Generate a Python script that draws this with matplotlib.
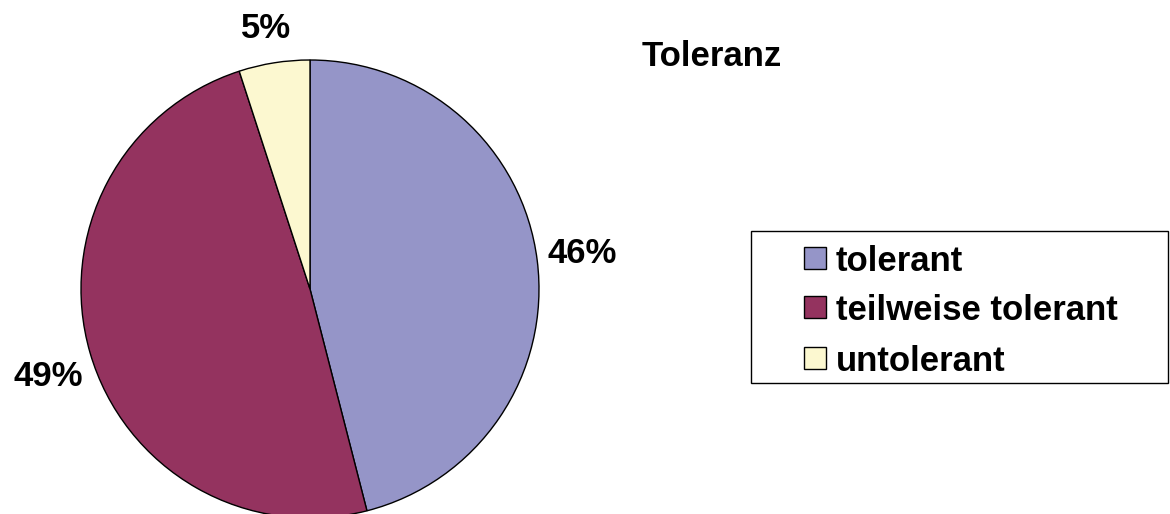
import matplotlib.pyplot as plt
from matplotlib.patches import Rectangle

# Daten
labels = ["tolerant", "teilweise tolerant", "untolerant"]
values = [46, 49, 5]
colors = ["#9595C8", "#94335F", "#FCF8D0"]
title = "Toleranz"

plt.rcParams['font.family'] = ['Liberation Sans', 'DejaVu Sans']
fs = 25

fig = plt.figure(figsize=(11.7, 5.14), dpi=100)
W, H = 1170, 514
cx, cy, r = 310, 289, 229
ax = fig.add_axes([(cx - r) / W, 1 - (cy + r) / H, 2 * r / W, 2 * r / H])

wedges, texts, autotexts = ax.pie(
    values, colors=colors, startangle=90, counterclock=False,
    autopct='%1.0f%%', pctdistance=1.18,
    wedgeprops=dict(edgecolor='black', linewidth=1.0),
    textprops=dict(fontsize=fs, fontweight='bold', color='black'))
ax.set_xlim(-1, 1)
ax.set_ylim(-1, 1)

# Beschriftungen verschieben
autotexts[0].set_position((1.19, 0.170))
autotexts[1].set_position((-1.144, -0.367))
autotexts[2].set_position((-0.192, 1.153))
for t in autotexts:
    t.set_va('center_baseline')


def px(x, y):
    return x / W, 1 - y / H


fig.text(*px(712, 53), title, fontsize=fs, fontweight='bold',
         ha='center', va='center_baseline')

# Legende
fig.patches.append(Rectangle(px(751, 383), 417 / W, 152 / H, transform=fig.transFigure,
                             facecolor='white', edgecolor='black', linewidth=1.0))
rows_y = [258, 307, 358]
for lab, col, yy in zip(labels, colors, rows_y):
    fig.patches.append(Rectangle(px(804, yy + 11), 22 / W, 22 / H, transform=fig.transFigure,
                                 facecolor=col, edgecolor='black', linewidth=1.0))
    fig.text(*px(836, yy), lab, fontsize=fs, fontweight='bold',
             ha='left', va='center_baseline')

fig.savefig("out.png", dpi=100)
